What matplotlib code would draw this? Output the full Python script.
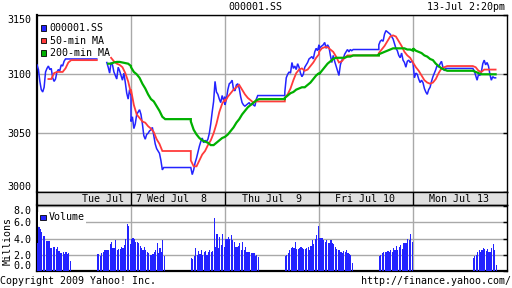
import numpy as np
import matplotlib
matplotlib.use("Agg")
import matplotlib.pyplot as plt
from matplotlib.patches import Rectangle

plt.rcParams["font.family"] = ["DejaVu Sans Mono"]

# ---------------- data ----------------
symbol = "000001.SS"
stamp = "13-Jul 2:20pm"
day_labels = ["Tue Jul  7", "Wed Jul  8", "Thu Jul  9", "Fri Jul 10", "Mon Jul 13"]
series_names = ["000001.SS", "50-min MA", "200-min MA"]
price_ticks = [3000, 3050, 3100, 3150]
vol_ticks = [0, 2, 4, 6, 8]

N = None
# index price, 5-minute samples: morning 9:30..11:30, afternoon 13:00..15:00
price_am = [
    [3108, 3104, 3094, 3087, 3085, 3089, 3102, 3105, 3107, 3104, 3105, 3097, 3094, 3096, 3102, 3104, 3103, 3108, 3107, 3111, 3113, 3113, 3113, 3113, 3113],
    [3060, 3064, 3054, 3058, 3066, 3068, 3070, 3066, 3058, 3048, 3045, 3049, 3050, 3052, 3053, 3055, 3048, 3041, 3037, 3035, 3033, 3027, 3019, 3021, 3021],
    [3074, 3079, 3087, 3092, 3093, 3095, 3087, 3086, 3091, 3092, 3088, 3081, 3076, 3074, 3073, 3074, 3075, 3076, 3074, 3075, 3074, 3073, 3079, 3082, 3082],
    [3121, 3123, 3124, 3125, 3127, 3122, 3125, 3123, 3116, 3110, 3116, 3111, 3107, 3103, 3099, 3108, 3112, 3113, 3117, 3119, 3121, 3119, 3121, 3120, 3121],
    [3110, 3097, 3101, 3100, 3096, 3093, 3095, 3093, 3088, 3085, 3083, 3087, 3089, 3094, 3098, 3101, 3104, 3108, 3106, 3109, 3111, 3106, 3103, 3105, 3105],
]
price_pm = [
    [N, N, N, N, N, N, N, 3110, 3106, 3101, 3110, 3108, 3102, 3099, 3096, 3106, 3103, 3099, 3095, 3101, 3093, 3084, 3079, 3087, 3082],
    [3021, 3015, 3019, 3025, 3029, 3034, 3039, 3043, 3046, 3042, 3044, 3043, 3045, 3050, 3058, 3068, 3077, 3094, 3085, 3083, 3079, 3076, 3082, 3078, 3081],
    [3085, 3097, 3100, 3102, 3101, 3110, 3105, 3107, 3104, 3109, 3106, 3101, 3098, 3100, 3106, 3108, 3110, 3113, 3114, 3115, 3113, 3119, 3122, 3120, 3125],
    [3125, 3128, 3129, 3128, 3134, 3137, 3136, 3135, 3134, 3132, 3130, 3126, 3122, 3120, 3116, 3114, 3118, 3112, 3110, 3106, 3111, 3112, 3110, 3111, 3110],
    [3105, 3103, 3099, 3095, 3100, 3099, 3102, 3109, 3112, 3108, 3110, 3107, 3100, 3095, 3098, 3097, 3097],
]
# 50-minute moving average, 10-minute samples
ma50_am = [
    [N, N, N, N, 3096, 3096, 3101, 3102, 3102, 3102, 3105, 3110, 3112],
    [3087, 3074, 3066, 3063, 3060, 3059, 3056, 3054, 3051, 3045, 3041, 3035, 3035],
    [3077, 3081, 3084, 3087, 3089, 3091, 3087, 3083, 3080, 3078, 3076, 3077, 3077],
    [3119, 3122, 3123, 3123, 3121, 3119, 3115, 3110, 3111, 3114, 3116, 3116, 3116],
    [3110, 3106, 3103, 3099, 3095, 3093, 3092, 3093, 3096, 3101, 3105, 3106, 3107],
]
ma50_pm = [
    [N, N, N, N, N, 3114, 3111, 3109, 3108, 3106, 3101, 3094, 3084],
    [3027, 3022, 3022, 3027, 3032, 3035, 3040, 3044, 3050, 3058, 3068, 3075, 3079],
    [3080, 3083, 3088, 3095, 3101, 3104, 3105, 3103, 3104, 3107, 3110, 3114, 3117],
    [3118, 3121, 3124, 3128, 3132, 3133, 3132, 3128, 3124, 3119, 3116, 3114, 3110],
    [3107, 3106, 3103, 3102, 3104, 3104, 3104, 3104, 3104],
]
# 200-minute moving average, 10-minute samples
ma200_am = [
    [N, N, N, N, N, N, N, N, N, N, N, N, N],
    [3106, 3102, 3100, 3097, 3092, 3088, 3083, 3079, 3077, 3073, 3069, 3064, 3062],
    [3047, 3049, 3052, 3055, 3059, 3062, 3066, 3069, 3072, 3074, 3076, 3078, 3079],
    [3100, 3103, 3106, 3109, 3111, 3113, 3114, 3114, 3114, 3114, 3115, 3115, 3116],
    [3122, 3120, 3119, 3118, 3116, 3115, 3113, 3112, 3109, 3107, 3105, 3104, 3103],
]
ma200_pm = [
    [N, N, N, N, 3109, 3109, 3110, 3110.5, 3110.5, 3110, 3109.5, 3109, 3107],
    [3060, 3053, 3049, 3046, 3044, 3043, 3042, 3040, 3040, 3042, 3044, 3046, 3047],
    [3080, 3082, 3084, 3085, 3087, 3088, 3089, 3089, 3091, 3093, 3096, 3099, 3101],
    [3117, 3118, 3119, 3120, 3121, 3122, 3122, 3122, 3122, 3122, 3121, 3121, 3120],
    [3103, 3102, 3101, 3100, 3100, 3100, 3100, 3100, 3100],
]
# volume (millions), 5-minute bars
vol_am = [
    [3.4, 5.4, 5.2, 4.8, 4.3, 4.3, 3.7, 3.7, 3.7, 2.9, 2.9, 3.0, 3.0, 2.7, 3.0, 2.5, 2.2, 2.2, 2.3, 2.1, 2.4, 2.1, 2.2, 1.2],
    [4.0, 4.1, 4.0, 3.6, 3.6, 3.5, 3.1, 2.8, 2.6, 3.0, 2.6, 2.4, 2.2, 2.0, 2.0, 2.1, 2.4, 2.6, 3.4, 2.2, 2.8, 2.4, 3.8, 1.8],
    [4.0, 4.0, 4.2, 3.9, 4.4, 3.8, 3.6, 3.0, 3.0, 3.1, 3.5, 2.6, 3.6, 2.6, 3.0, 2.4, 2.4, 2.3, 2.2, 2.2, 2.2, 1.8, 2.0, 1.7],
    [4.1, 4.1, 4.1, 3.8, 3.6, 3.8, 3.5, 3.4, 3.8, 3.4, 3.3, 3.0, 2.7, 2.6, 2.6, 2.4, 2.2, 2.5, 2.4, 2.6, 2.2, 2.1, 2.0, 1.0],
    [],
]
vol_pm = [
    [2.1, 2.1, 1.9, 2.2, 2.4, 2.6, 2.6, 2.6, 2.6, 3.3, 3.6, 2.9, 2.8, 3.8, 2.6, 2.7, 2.7, 3.0, 2.9, 3.2, 3.9, 5.8, 5.5, 3.3],
    [1.6, 1.5, 1.8, 2.8, 2.0, 2.5, 2.1, 2.6, 2.0, 2.4, 2.5, 2.0, 2.4, 2.6, 2.4, 2.5, 6.6, 3.0, 4.6, 2.8, 4.2, 3.2, 4.6, 3.0],
    [1.8, 2.0, 2.2, 2.6, 2.8, 3.0, 2.9, 3.6, 2.7, 2.7, 2.8, 3.0, 2.8, 2.7, 2.7, 2.8, 3.0, 2.6, 3.1, 3.8, 3.3, 4.0, 4.4, 5.5],
    [1.8, 2.0, 2.2, 2.3, 2.4, 2.3, 2.5, 2.3, 2.6, 2.4, 2.9, 2.6, 3.1, 2.6, 3.0, 3.2, 2.7, 3.4, 3.4, 3.5, 4.0, 3.8, 4.6, 3.6],
    [1.6, 1.8, 2.0, 2.3, 2.6, 2.4, 2.6, 2.8, 2.7, 2.5, 2.7, 2.4, 2.4, 2.8, 3.3, 2.6, 0.7],
]

# ---------------- layout / style ----------------
W, H = 512, 288
DAY_MIN = 330.0   # 9:30 -> 15:00
PM_START = 210.0  # 13:00
BLUE, RED, GREEN = "#2323ff", "#ff3b3b", "#00b000"
GRID = "#a9a9a9"
FS = 7.2


def series(am, pm, step):
    xs, ys = [], []
    for d in range(len(am)):
        a = np.array([np.nan if v is None else v for v in am[d]], float)
        p = np.array([np.nan if v is None else v for v in pm[d]], float)
        xs += list(d + np.arange(len(a)) * step / DAY_MIN)
        ys += list(a)
        if len(a) and np.isfinite(a[-1]):
            xs.append(d + PM_START / DAY_MIN)
            ys.append(a[-1])
        xs += list(d + (PM_START + np.arange(len(p)) * step) / DAY_MIN)
        ys += list(p)
    return np.array(xs), np.array(ys)


def rect(x0, y0, x1, y1):
    return [x0 / W, 1 - y1 / H, (x1 - x0) / W, (y1 - y0) / H]


fig = plt.figure(figsize=(W / 100, H / 100), dpi=100)
fig.patch.set_facecolor("white")

ax = fig.add_axes(rect(37, 15.3, 507, 192.3))
band = fig.add_axes(rect(37, 192.3, 507, 205))
axv = fig.add_axes(rect(37, 205, 507, 271))
ndays = len(day_labels)

# ----- price panel -----
for a_, p_, st, col, lw, z in [
    (price_am, price_pm, 5, BLUE, 1.1, 3),
    (ma50_am, ma50_pm, 10, RED, 1.3, 4),
    (ma200_am, ma200_pm, 10, GREEN, 1.6, 5),
]:
    x, y = series(a_, p_, st)
    ax.plot(x, y, color=col, lw=lw, zorder=z, solid_joinstyle="miter")

ax.set_xlim(0, ndays)
ax.set_ylim(price_ticks[0], price_ticks[-1])
ax.set_xticks(range(1, ndays))
ax.set_xticklabels([])
ax.set_yticks(price_ticks)
ax.set_yticklabels([str(t) for t in price_ticks], fontsize=FS)
labs = ax.get_yticklabels()
labs[0].set_va("bottom")
labs[-1].set_va("top")
ax.tick_params(axis="y", left=False, right=True, direction="in", length=3, width=1,
               color="black", pad=4)
ax.tick_params(axis="x", bottom=False, top=False, length=0)
ax.grid(True, color=GRID, lw=1.0, zorder=0)
ax.set_axisbelow(True)
for s in ax.spines.values():
    s.set_color("black"); s.set_linewidth(1.0)
ax.spines["left"].set_linewidth(1.6)

# legend (manual)
leg_rows = [28.0, 40.5, 53.0]
for name, col, yc in zip(series_names, [BLUE, RED, GREEN], leg_rows):
    fig.add_artist(Rectangle((40.7 / W, 1 - (yc + 2.8) / H), 5.3 / W, 5.6 / H,
                             transform=fig.transFigure, facecolor=col,
                             edgecolor="black", lw=0.6, zorder=10))
    fig.text(49.5 / W, 1 - yc / H, name, fontsize=FS, va="center", ha="left", zorder=10)

# ----- date band -----
band.set_facecolor("#e0e0e0")
band.set_xlim(0, ndays)
band.set_ylim(0, 1)
band.set_yticks([])
band.set_xticks([])
for d in range(1, ndays):
    band.axvline(d, color="black", lw=1.0)
label_pos = [0.80, 1.49, 2.495, 3.49, 4.49]
for lab, xp in zip(day_labels, label_pos):
    band.text(xp, 0.45, lab, fontsize=FS, ha="center", va="center")
for s in band.spines.values():
    s.set_color("black"); s.set_linewidth(1.0)
band.spines["left"].set_linewidth(1.6)

# ----- volume panel -----
bw = 5.0 / DAY_MIN
for d in range(ndays):
    for arr, start in [(vol_am[d], 0.0), (vol_pm[d], PM_START)]:
        if not arr:
            continue
        v = np.array(arr, float)
        xb = d + (start + 5.0 * np.arange(len(v))) / DAY_MIN
        axv.bar(xb, v, width=bw * 0.8, align="edge", color=BLUE, lw=0, zorder=3)

axv.set_xlim(0, ndays)
axv.set_ylim(0, 8.15)
axv.set_xticks(range(1, ndays))
axv.set_xticklabels([])
axv.set_yticks(vol_ticks)
axv.set_yticklabels([f"{t:.1f}" for t in vol_ticks], fontsize=FS)
vl = axv.get_yticklabels()
vl[0].set_va("bottom")
vl[-1].set_va("top")
axv.tick_params(axis="y", left=False, right=True, direction="in", length=3, width=1,
                color="black", pad=4)
axv.tick_params(axis="x", bottom=False, top=False, length=0)
axv.grid(True, color=GRID, lw=1.0, zorder=0)
axv.set_axisbelow(True)
for s in axv.spines.values():
    s.set_color("black"); s.set_linewidth(1.0)
axv.spines["left"].set_linewidth(1.6)
axv.spines["bottom"].set_linewidth(1.6)

# volume legend with white backing
fig.add_artist(Rectangle((37.8 / W, 1 - 225.5 / H), 48 / W, 14 / H,
                         transform=fig.transFigure, facecolor="white",
                         edgecolor="none", zorder=8))
fig.add_artist(Rectangle((40.2 / W, 1 - 220.3 / H), 5.6 / W, 5.8 / H,
                         transform=fig.transFigure, facecolor=BLUE,
                         edgecolor="black", lw=0.6, zorder=10))
fig.text(49.0 / W, 1 - 217.5 / H, "Volume", fontsize=FS, va="center", ha="left", zorder=10)
fig.text(7.5 / W, 1 - 241 / H, "Millions", fontsize=FS, rotation=90,
         va="center", ha="center")

# ----- header / footer -----
fig.text(255 / W, 1 - 7.5 / H, symbol, fontsize=FS, ha="center", va="center")
fig.text(505 / W, 1 - 7.5 / H, stamp, fontsize=FS, ha="right", va="center")
fig.text(0.5 / W, 1 - 280.5 / H, "Copyright 2009 Yahoo! Inc.", fontsize=FS,
         ha="left", va="center")
fig.text(511.5 / W, 1 - 280.5 / H, "http://finance.yahoo.com/", fontsize=FS,
         ha="right", va="center")

fig.savefig("out.png", dpi=100, facecolor="white")
